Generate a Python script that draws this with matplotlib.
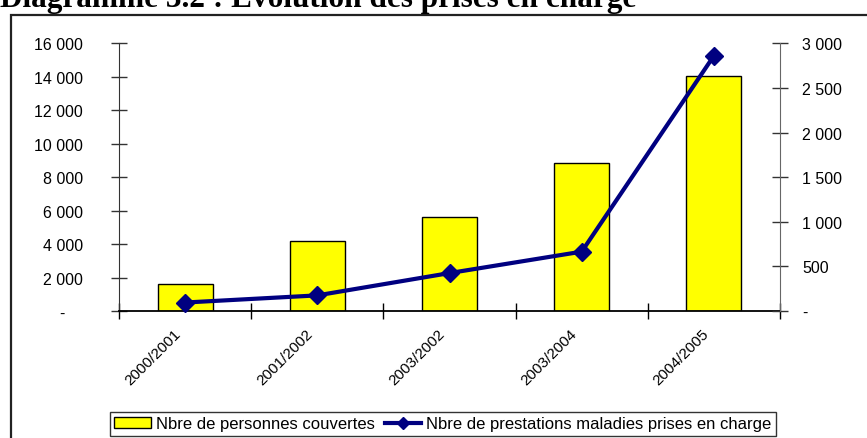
import matplotlib
matplotlib.use("Agg")
import matplotlib.pyplot as plt
import matplotlib.patches as mpatches
import matplotlib.transforms as mtransforms
from matplotlib.lines import Line2D
import numpy as np

plt.rcParams['font.family'] = ['Liberation Sans', 'DejaVu Sans']

# data
periodes = ["2000/2001", "2001/2002", "2003/2002", "2003/2004", "2004/2005"]
personnes_couvertes = [1600, 4200, 5600, 8850, 14050]
prestations_maladies = [95, 175, 425, 665, 2860]

left_ticks = [0, 2000, 4000, 6000, 8000, 10000, 12000, 14000, 16000]
right_ticks = [0, 500, 1000, 1500, 2000, 2500, 3000]


def fmt(v, pad=""):
    if v == 0:
        return "-" + pad
    return "{:,}".format(v).replace(",", " ")


W, H = 867, 439
fig = plt.figure(figsize=(W / 100, H / 100), dpi=100)

# outer chart frame (runs off the right and bottom edge)
fig.patches.append(mpatches.Rectangle((10.5 / W, -0.2), 1.2, (H - 16) / H + 0.2,
                                      transform=fig.transFigure, fill=False,
                                      edgecolor="#222222", linewidth=1.6))

# title, partly cut off at the top
fig.text(0.0, 1 - 7.5 / H, "Diagramme 3.2 : Evolution des prises en charge",
         family="Liberation Serif", fontweight="bold", fontsize=22.5,
         ha="left", va="baseline")

ax = fig.add_axes([119 / W, 1 - 312 / H, (780 - 119) / W, (312 - 44.3) / H])
x = np.arange(len(periodes))
ax.bar(x, personnes_couvertes, width=0.415, color="#FFFF00",
       edgecolor="black", linewidth=1.0, zorder=2)
ax.set_xlim(-0.5, len(periodes) - 0.5)
ax.set_ylim(0, 16000)
ax.set_yticks(left_ticks)
ax.set_yticklabels([fmt(v, "    ") for v in left_ticks])
ax.set_xticks(x)
ax.set_xticklabels(periodes, rotation=45, ha="right", va="top",
                   rotation_mode="anchor")
ax.set_xticks(np.arange(-0.5, len(periodes)), minor=True)
ax.tick_params(axis="x", which="major", length=0, pad=11, labelsize=11)
ax.tick_params(axis="x", which="minor", direction="inout", length=12,
               width=1, color="black")
ax.tick_params(axis="y", direction="inout", length=12, width=1,
               color="#333333", pad=20, labelsize=11.5)
shift = mtransforms.ScaledTranslation(-12 / 100, 0, fig.dpi_scale_trans)
for lab in ax.get_xticklabels():
    lab.set_transform(lab.get_transform() + shift)
ax.spines["top"].set_visible(False)
ax.spines["right"].set_visible(False)
ax.spines["left"].set_color("#333333")
ax.spines["bottom"].set_color("black")
ax.spines["bottom"].set_linewidth(1.3)
ax.patch.set_visible(False)

ax2 = ax.twinx()
ax2.plot(x, prestations_maladies, color="#000080", linewidth=3,
         marker="D", markersize=9, zorder=3, clip_on=False)
ax2.set_ylim(0, 3000)
ax2.set_yticks(right_ticks)
ax2.set_yticklabels([fmt(v) for v in right_ticks])
ax2.tick_params(axis="y", direction="inout", length=12, width=1,
                color="#333333", pad=10, labelsize=11.5)
ax2.spines["top"].set_visible(False)
ax2.spines["left"].set_visible(False)
ax2.spines["bottom"].set_visible(False)
ax2.spines["right"].set_color("#666666")

handles = [mpatches.Patch(facecolor="#FFFF00", edgecolor="black", linewidth=1),
           Line2D([], [], color="#000080", linewidth=3, marker="D", markersize=6)]
leg = fig.legend(handles, ["Nbre de personnes couvertes",
                           "Nbre de prestations maladies prises en charge"],
                 loc="center", bbox_to_anchor=(443 / W, 1 - 425 / H), ncol=2,
                 fontsize=12, frameon=True, fancybox=False, borderpad=0.25,
                 handlelength=2.2, handletextpad=0.3, columnspacing=0.6,
                 handleheight=0.6)
leg.get_frame().set_edgecolor("black")
leg.get_frame().set_linewidth(1.0)

fig.savefig("out.png", dpi=100)
